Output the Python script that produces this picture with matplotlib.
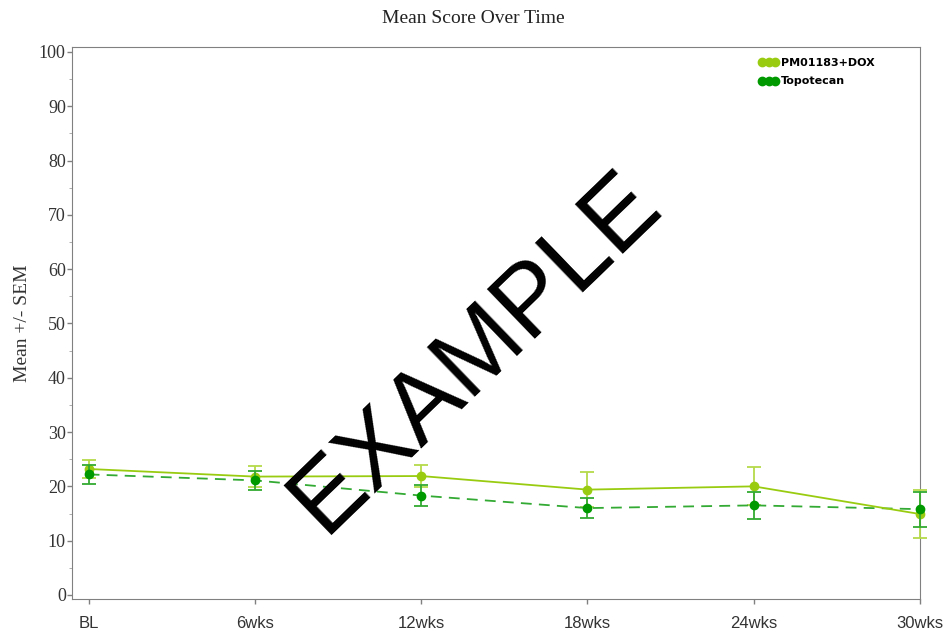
import matplotlib
matplotlib.use("Agg")
import matplotlib.pyplot as plt
from matplotlib.lines import Line2D

visits = ["BL", "6wks", "12wks", "18wks", "24wks", "30wks"]

pm_mean = [23.2, 21.8, 21.9, 19.4, 20.0, 14.9]
pm_sem = [1.7, 2.0, 2.0, 3.2, 3.5, 4.4]

topo_mean = [22.2, 21.1, 18.3, 16.0, 16.5, 15.8]
topo_sem = [1.7, 1.7, 1.9, 1.8, 2.5, 3.2]

PM_COLOR = "#99cc11"
PM_ERR = "#b5d94a"
TOPO_COLOR = "#009a00"
TOPO_LINE = "#33aa33"

fig = plt.figure(figsize=(9.46, 6.33), dpi=100)
ax = fig.add_axes([72 / 946, 34 / 633, 848 / 946, 552 / 633])

x = list(range(len(visits)))

ax.errorbar(x, pm_mean, yerr=pm_sem, color=PM_COLOR, ecolor=PM_ERR,
            linestyle="-", linewidth=1.3, marker="o", markersize=6,
            capsize=5, capthick=1.3, elinewidth=1.3, zorder=3,
            clip_on=False)
ax.errorbar(x, topo_mean, yerr=topo_sem, color=TOPO_COLOR, ecolor=TOPO_LINE,
            linestyle="none", marker="o", markersize=6,
            capsize=5, capthick=1.3, elinewidth=1.3, zorder=4,
            clip_on=False)
ax.plot(x, topo_mean, color=TOPO_LINE, linestyle=(0, (6, 4)), linewidth=1.3,
        zorder=3)

ax.set_xlim(-0.1, 5.0)
ax.set_ylim(-0.74, 100.9)
ax.set_xticks(x)
ax.set_xticklabels(visits, fontfamily="Liberation Sans", fontsize=12)
ax.set_yticks(range(0, 101, 10))
ax.set_yticks(range(5, 100, 10), minor=True)
for lab in ax.get_yticklabels():
    lab.set_fontfamily("Liberation Serif")
    lab.set_fontsize(13)

for s in ax.spines.values():
    s.set_color("#808080")
ax.tick_params(axis="both", colors="#808080", labelcolor="#333333",
               length=3.5, width=1)
ax.tick_params(axis="y", which="minor", colors="#a0a0a0", length=2)
ax.tick_params(axis="x", pad=9)
ax.tick_params(axis="y", pad=1)

ax.set_ylabel("Mean +/- SEM", fontfamily="Liberation Serif", fontsize=14,
              color="#333333", labelpad=6)
fig.text(0.5, 0.971, "Mean Score Over Time", ha="center", va="center",
         fontfamily="Liberation Serif", fontsize=14, color="#222222")

handles = [
    Line2D([], [], color=PM_COLOR, marker="o", linestyle="none", markersize=6),
    Line2D([], [], color=TOPO_COLOR, marker="o", linestyle="none", markersize=6),
]
ax.legend(handles, ["PM01183+DOX", "Topotecan"], loc="upper left",
          bbox_to_anchor=(0.805, 0.988), frameon=False, numpoints=3,
          handlelength=1.7, handletextpad=0.3, labelspacing=0.75,
          borderaxespad=0,
          prop={"family": "DejaVu Sans", "weight": "bold", "size": 8})

fig.text(0.503, 0.443, "EXAMPLE", ha="center", va="center", rotation=44,
         fontfamily="Liberation Sans", fontsize=72, color="black", zorder=10)

fig.savefig("out.png", dpi=100)
